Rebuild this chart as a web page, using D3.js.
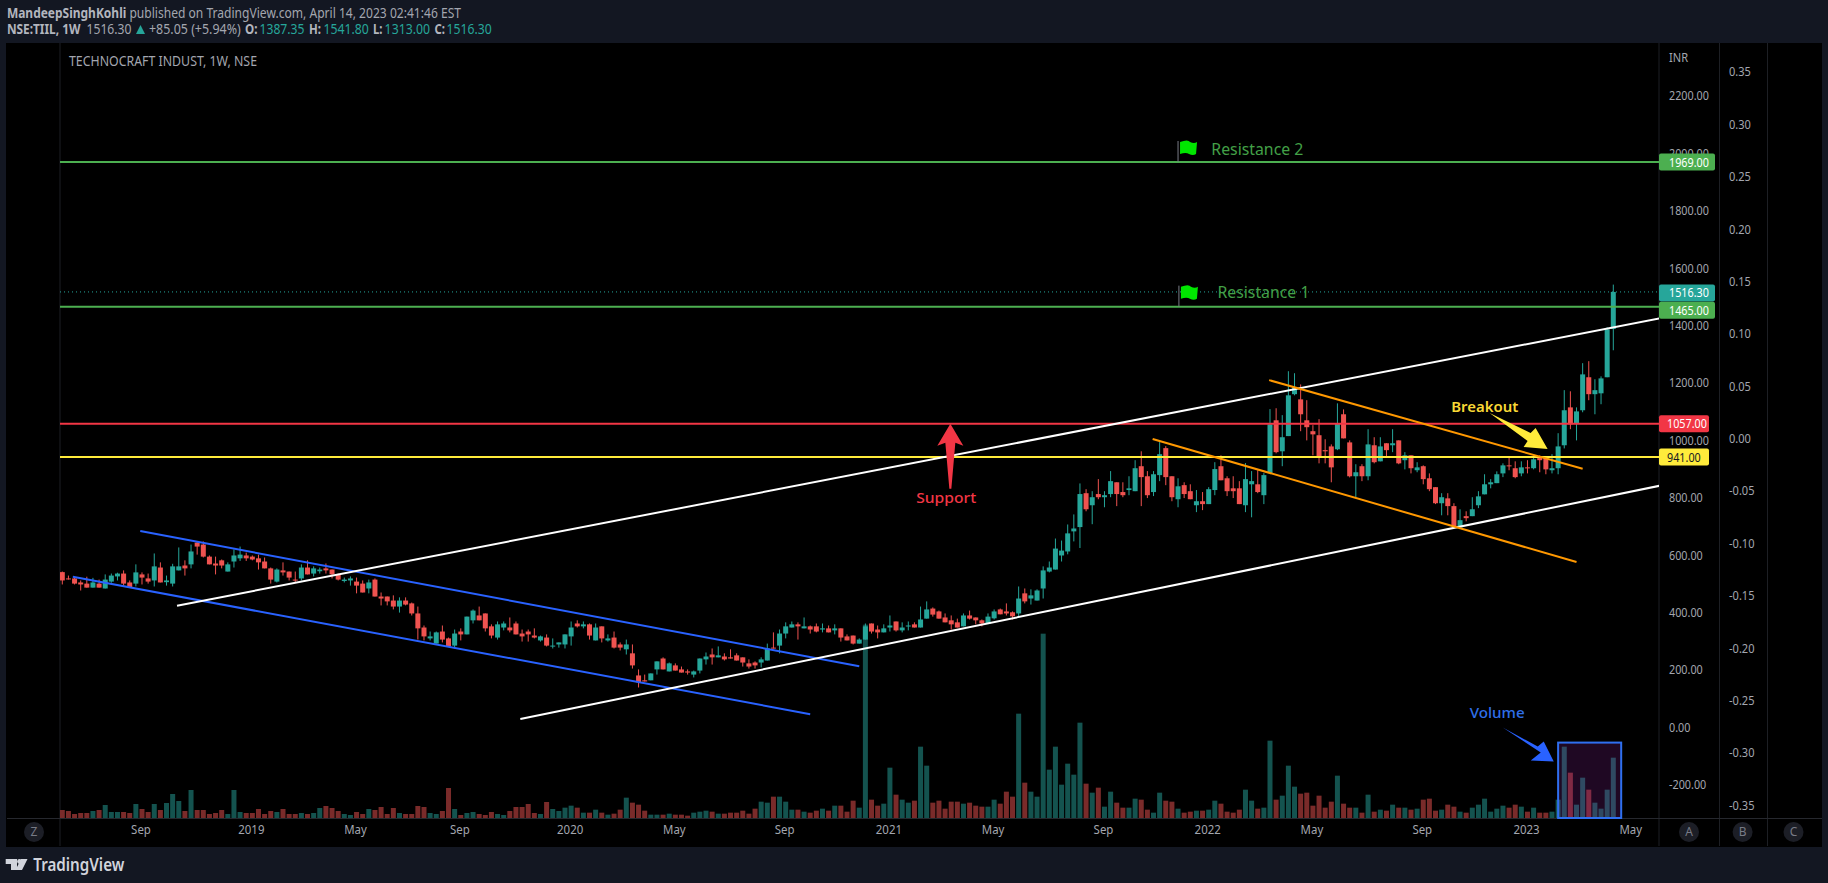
<!DOCTYPE html>
<html>
<head>
<meta charset="utf-8">
<script src="https://cdn.jsdelivr.net/npm/d3@7"></script>
<style>
  html, body { margin: 0; padding: 0; background: #131722; overflow: hidden; }
  svg { display: block; }
  text { font-family: "Noto Sans", sans-serif; }
</style>
</head>
<body>
<svg id="chart" width="1828" height="883"></svg>
<script>
// weekly candles (one value per week from the first bar)
var firstWeek = '2018-06-04';
var opens = [
  540,518,518,504,500,486,500,483,507,525, 535,504,500,532,518,511,556,505,500,546,
  563,567,643,636,594,570,581,542,577,588, 598,594,588,577,553,507,546,542,514,518,
  556,535,543,553,549,532,509,511,507,500, 483,514,455,455,441,420,441,431,396,347,
  309,291,333,309,284,333,323,372,389,396, 351,312,347,347,361,326,333,319,302,312,
  281,288,288,316,361,351,358,302,351,302, 312,288,271,257,180,163,163,201,239,194,
  215,201,194,183,197,236,253,243,246,243, 250,243,222,225,225,232,277,284,326,347,
  358,344,351,351,340,344,337,344,316,319, 291,305,361,340,330,347,368,337,351,358,
  347,378,413,403,382,372,365,351,389,382, 372,361,379,410,403,400,396,466,448,441,
  483,542,549,598,612,682,697,815,773,812, 801,812,853,819,826,822,909,874,819,878,
  972,874,794,843,822,773,787,777,826,909, 867,832,832,773,846,846,808,885,1069,961,
  1014,1160,1142,1069,1031,1017,965,978,968,1090, 992,874,909,874,982,926,989,982,999,930,
  947,895,909,867,836,780,797,770,696,735, 735,773,811,846,850,884,912,902,884,905,
  902,940,940,895,902,982,1114,1059,1104,1219, 1160,1163,1219,1387.35
];
var highs = [
  542,528,524,511,524,520,514,532,535,538, 546,511,567,539,535,605,574,528,569,626,
  581,636,648,647,598,594,584,574,619,629, 608,598,601,591,556,553,574,542,542,567,
  581,560,556,570,549,535,521,525,521,511, 514,518,469,455,459,452,452,434,420,354,
  333,333,354,312,340,344,385,410,420,396, 358,368,368,382,368,340,340,344,319,323,
  309,295,323,368,372,368,361,361,351,323, 333,295,305,288,201,183,187,229,243,225,
  222,211,201,197,239,260,274,281,257,271, 257,243,236,229,243,291,330,340,365,368,
  365,382,354,361,361,354,358,344,323,319, 309,361,361,354,358,389,368,365,368,365,
  420,438,417,406,396,389,378,396,406,382, 375,396,410,413,431,403,490,483,480,480,
  560,577,657,650,706,741,849,829,822,864, 822,892,853,853,874,930,961,892,892,993,
  979,874,867,853,846,826,819,836,923,947, 874,874,857,920,892,895,885,1108,1111,1087,
  1240,1233,1194,1139,1052,1073,1003,985,1128,1107, 999,916,916,1038,1010,1010,989,1038,999,958,
  947,923,912,884,836,815,815,780,759,752, 801,822,881,864,891,919,944,926,926,930,
  940,947,944,951,1024,1174,1170,1114,1268,1275, 1212,1222,1393,1541.8
];
var lows = [
  497,514,497,476,486,486,486,483,503,511, 493,486,490,497,500,490,504,493,490,546,
  528,553,601,591,567,532,553,542,556,579, 579,581,549,553,500,504,528,511,504,511,
  532,525,535,535,518,511,504,493,466,469, 466,455,424,424,410,399,424,389,305,302,
  302,291,295,281,274,302,323,361,372,333, 309,305,337,330,323,298,298,309,298,281,
  274,277,274,284,347,344,305,302,295,298, 274,267,253,204,138,159,163,183,201,194,
  197,190,183,173,187,218,218,243,232,239, 232,211,204,204,208,232,274,257,309,347,
  305,344,326,330,330,330,323,298,302,288, 291,305,326,309,330,333,333,330,337,347,
  347,378,385,378,365,340,347,351,375,358, 351,361,375,393,389,375,386,431,427,441,
  448,539,549,577,602,647,624,752,707,794, 766,801,770,801,808,822,770,798,805,857,
  843,787,766,798,794,749,756,777,808,860, 805,798,777,749,731,815,777,885,954,909,
  1014,1156,1031,999,947,919,919,853,965,1006, 870,801,857,860,919,926,940,958,916,898,
  884,888,846,822,777,738,738,700,696,717, 735,763,811,832,850,871,895,867,874,884,
  898,888,881,884,881,971,1038,999,1097,1139, 1090,1125,1219,1313
];
var closes = [
  511,515,500,497,486,504,486,514,528,535, 500,486,539,521,507,560,504,511,560,560,
  553,612,629,594,567,563,563,567,598,601, 588,584,574,553,514,549,539,521,511,556,
  532,553,549,546,532,514,514,518,493,469, 504,455,448,438,420,441,427,396,344,316,
  316,330,305,281,326,323,385,406,372,344, 319,358,361,337,323,316,323,312,316,284,
  284,295,323,347,351,358,319,347,309,309, 277,277,288,215,156,159,187,229,201,222,
  197,190,190,194,239,246,243,250,236,239, 232,225,211,215,236,274,274,326,351,358,
  351,351,340,333,344,330,344,312,302,291, 305,351,333,330,344,354,337,347,354,347,
  375,410,392,378,365,358,347,389,378,372, 361,385,403,393,396,386,448,438,459,476,
  546,556,622,615,675,692,812,759,801,801, 808,857,812,808,832,902,871,808,881,951,
  871,801,839,812,794,787,777,829,899,860, 822,822,777,864,857,819,878,1055,958,1010,
  1156,1184,1090,1045,1020,944,961,905,1059,1006, 874,888,874,985,923,978,965,989,919,947,
  902,905,864,829,780,801,770,700,721,728, 759,804,846,853,881,912,909,871,905,902,
  933,930,898,902,978,1104,1055,1100,1229,1160, 1174,1215,1386,1516.3
];
// volume, in thousands of shares (no scale in the picture, so rough)
var volumes = [
  24,21,12,15,15,21,24,39,18,18, 18,15,42,27,18,42,24,45,72,51,
  21,84,24,24,12,15,24,12,84,18, 15,15,27,12,21,18,27,12,12,15,
  12,15,30,36,30,21,12,9,18,12, 27,24,33,12,30,15,12,12,36,33,
  15,12,21,90,27,9,15,18,12,9, 18,12,9,21,33,33,42,15,12,48,
  27,21,31,37,31,16,16,25,16,10, 13,25,61,46,40,22,10,10,10,13,
  10,10,7,16,19,22,19,13,13,16, 16,22,13,28,49,46,64,64,49,25,
  25,19,16,22,28,22,37,37,19,52, 31,580,55,37,43,151,70,55,46,52,
  214,157,46,52,28,49,49,43,46,37, 34,34,55,43,79,64,313,106,79,64,
  553,145,214,100,163,130,286,103,76,91, 34,79,46,31,31,58,55,25,16,76,
  52,49,28,16,19,22,22,25,52,43, 19,16,25,85,52,28,31,232,55,67,
  157,94,73,76,37,67,31,49,127,43, 31,31,16,70,19,25,22,40,31,31,
  25,28,55,58,22,25,40,34,19,16, 31,40,58,19,28,37,31,40,34,19,
  31,16,16,19,55,214,136,40,121,85, 46,28,85,181
];

var priceTicks = [2200,2000,1800,1600,1400,1200,1000,800,600,400,200,0,-200];
var sideTicks = [0.35,0.30,0.25,0.20,0.15,0.10,0.05,0,-0.05,-0.10,-0.15,-0.20,-0.25,-0.30,-0.35];
var timeTicks = ['2018-09-03','2019-01-07','2019-05-06','2019-09-02','2020-01-06','2020-05-04','2020-09-07',
  '2021-01-04','2021-05-03','2021-09-06','2022-01-03','2022-05-02','2022-09-05','2023-01-02','2023-05-01'];

// trend lines: bar number and price at both ends
var blueUpper = [[12.73,683],[130.08,212]];
var blueLower = [[1.8,524],[122,45]];
var whiteUpper = [[18.77,423],[260.6,1424]];
var whiteLower = [[74.8,28],[260.6,841]];
var orangeUpper = [[196.9,1209],[248.1,900]];
var orangeLower = [[177.9,1004],[247.05,575]];
var levels = [1969,1465,1057,941];
var lastPrice = 1516.3;

var green = '#26a69a', red = '#ef5350';
var parseDay = d3.utcParse('%Y-%m-%d');
var start = parseDay(firstWeek);
var candles = opens.map(function(o, i) {
  return { date: d3.utcDay.offset(start, i * 7), o: o, h: highs[i], l: lows[i], c: closes[i], v: volumes[i] };
});

var svg = d3.select('#chart');
var paneLeft = 60, paneRight = 1659, paneTop = 43, paneBottom = 818;

var x = d3.scaleUtc()
  .domain([start, d3.utcDay.offset(start, 253 * 7)])
  .range([62.3, 1613.3]);
var y = d3.scaleLinear().domain([2200, -200]).range([95.7, 784.5]);
var ySide = d3.scaleLinear().domain([0.35, -0.35]).range([71.7, 805]);
var yVol = d3.scaleLinear().domain([0, 600]).range([paneBottom, paneBottom - 200]);

function barX(bar) { return x(d3.utcDay.offset(start, bar * 7)); }

// the chart font is narrower than anything installed, so squeeze the glyphs
function squeeze(sel, k) {
  sel.each(function() {
    this.setAttribute('textLength', this.getComputedTextLength() * k);
    this.setAttribute('lengthAdjust', 'spacingAndGlyphs');
  });
}

// black panel and axis separators
svg.append('rect').attr('x', 6).attr('y', 43).attr('width', 1816).attr('height', 804).attr('fill', '#000');
var sepColor = '#1d1f24';
[60, 1659, 1719.5, 1767.5].forEach(function(px) {
  svg.append('line').attr('x1', px).attr('x2', px).attr('y1', 43).attr('y2', 846)
    .attr('stroke', sepColor).attr('stroke-width', 1);
});
svg.append('line').attr('x1', 7).attr('x2', 1822).attr('y1', 818.5).attr('y2', 818.5)
  .attr('stroke', '#26282e').attr('stroke-width', 1);

svg.append('clipPath').attr('id', 'pane').append('rect')
  .attr('x', paneLeft).attr('y', paneTop).attr('width', paneRight - paneLeft).attr('height', paneBottom - paneTop);
var plot = svg.append('g').attr('clip-path', 'url(#pane)');

// volume
plot.selectAll('.vol').data(candles).enter().append('rect')
  .attr('class', 'vol')
  .attr('x', function(d) { return x(d.date) - 2.5; })
  .attr('width', 5)
  .attr('y', function(d) { return yVol(d.v); })
  .attr('height', function(d) { return paneBottom - yVol(d.v); })
  .attr('fill', function(d) { return d.c >= d.o ? '#14534f' : '#7a2b2a'; });

// candles
plot.selectAll('.wick').data(candles).enter().append('line')
  .attr('class', 'wick')
  .attr('x1', function(d) { return x(d.date); })
  .attr('x2', function(d) { return x(d.date); })
  .attr('y1', function(d) { return y(d.h); })
  .attr('y2', function(d) { return y(d.l); })
  .attr('stroke', function(d) { return d.c >= d.o ? green : red; })
  .attr('stroke-width', 1);
plot.selectAll('.body').data(candles).enter().append('rect')
  .attr('class', 'body')
  .attr('x', function(d) { return x(d.date) - 2.5; })
  .attr('width', 5)
  .attr('y', function(d) { return y(Math.max(d.o, d.c)); })
  .attr('height', function(d) { return Math.max(1, Math.abs(y(d.o) - y(d.c))); })
  .attr('fill', function(d) { return d.c >= d.o ? green : red; });

// last price dotted line
plot.append('line').attr('x1', paneLeft).attr('x2', paneRight)
  .attr('y1', y(lastPrice)).attr('y2', y(lastPrice))
  .attr('stroke', green).attr('stroke-width', 1).attr('stroke-dasharray', '1 3');

// horizontal levels
var levelColors = ['#4caf50', '#4caf50', '#f23645', '#ffeb3b'];
levels.forEach(function(p, i) {
  plot.append('line').attr('x1', paneLeft).attr('x2', paneRight)
    .attr('y1', y(p)).attr('y2', y(p))
    .attr('stroke', levelColors[i]).attr('stroke-width', 2);
});

// trend lines
function trend(pts, color) {
  plot.append('line')
    .attr('x1', barX(pts[0][0])).attr('y1', y(pts[0][1]))
    .attr('x2', barX(pts[1][0])).attr('y2', y(pts[1][1]))
    .attr('stroke', color).attr('stroke-width', 2);
}
trend(blueUpper, '#2962ff');
trend(blueLower, '#2962ff');
trend(whiteUpper, '#ffffff');
trend(whiteLower, '#ffffff');
trend(orangeUpper, '#ff9800');
trend(orangeLower, '#ff9800');

// arrows are drawn around the price/bar of their tip
function arrow(bar, price, shape, color) {
  svg.append('polygon')
    .attr('points', shape.map(function(s) { return (barX(bar) + s[0]) + ',' + (y(price) + s[1]); }).join(' '))
    .attr('fill', color);
}
arrow(144.9, 1057, [[0,0],[13,22],[5,19],[1,65],[-1,65],[-5,19],[-13,22]], '#f23645');
arrow(242.3, 969, [[0,0],[-24,-2],[-20,-8],[-58,-36],[-17,-16],[-12,-21]], '#ffeb3b');
arrow(243.4, -120, [[0,0],[-23,-1],[-13,-9],[-51,-34],[-16,-15],[-10,-20]], '#2962ff');

// flags
function flag(bar, price) {
  var fx = barX(bar), fy = y(price);
  plot.append('line').attr('x1', fx).attr('x2', fx).attr('y1', fy).attr('y2', fy - 21)
    .attr('stroke', '#787b86').attr('stroke-width', 1);
  plot.append('path')
    .attr('d', 'M' + (fx + 2) + ',' + (fy - 20) + ' q8,-3 10,0 q4,2 7,0 l-1,12 q-3,2 -7,0 q-3,-2 -9,0 z')
    .attr('fill', '#00e600');
}
flag(182, 1969);
flag(182.2, 1465);

function note(txt, bar, price, color, size, weight, width) {
  svg.append('text')
    .attr('x', barX(bar)).attr('y', y(price)).attr('dy', '.35em')
    .attr('fill', color).attr('font-size', size).attr('font-weight', weight)
    .attr('textLength', width).attr('lengthAdjust', 'spacingAndGlyphs')
    .text(txt);
}
note('Resistance 2', 187.5, 2014, '#43a047', 15.5, 400, 92);
note('Resistance 1', 188.5, 1513, '#43a047', 15.5, 400, 92);
note('Support', 139.3, 800, '#f23645', 15, 500, 60);
note('Breakout', 226.6, 1116, '#f9d835', 15, 600, 67);
note('Volume', 229.6, 50, '#2f6fe8', 15, 500, 55);

// volume highlight box
svg.append('rect')
  .attr('x', barX(244.1)).attr('width', barX(254.3) - barX(244.1))
  .attr('y', y(-54)).attr('height', paneBottom - y(-54))
  .attr('fill', 'rgba(156,39,176,0.2)').attr('stroke', '#2f6ff0').attr('stroke-width', 2);

// price axis
var priceAxis = d3.axisRight(y).tickValues(priceTicks).tickSize(0).tickPadding(0)
  .tickFormat(function(d) { return d3.format('.2f')(d).replace('\u2212', '-'); });
var priceG = svg.append('g').attr('transform', 'translate(1669,0)').call(priceAxis);
priceG.select('.domain').remove();
priceG.selectAll('text').attr('fill', '#a3a6af').attr('font-size', 13)
  .attr('font-family', '"Noto Sans", sans-serif').call(squeeze, 0.83);

var sideAxis = d3.axisRight(ySide).tickValues(sideTicks).tickSize(0).tickPadding(0)
  .tickFormat(function(d) { return d3.format('.2f')(d).replace('\u2212', '-'); });
var sideG = svg.append('g').attr('transform', 'translate(1729,0)').call(sideAxis);
sideG.select('.domain').remove();
sideG.selectAll('text').attr('fill', '#a3a6af').attr('font-size', 13)
  .attr('font-family', '"Noto Sans", sans-serif').call(squeeze, 0.85);

svg.append('text').attr('x', 1669).attr('y', 62).attr('fill', '#a3a6af').attr('font-size', 13)
  .text('INR').call(squeeze, 0.85);

// time axis
var timeAxis = d3.axisBottom(x).tickValues(timeTicks.map(parseDay)).tickSize(0).tickPadding(0)
  .tickFormat(function(d) { return d.getUTCMonth() === 0 ? d3.utcFormat('%Y')(d) : d3.utcFormat('%b')(d); });
var timeG = svg.append('g').attr('transform', 'translate(-1.5,825)').call(timeAxis);
timeG.select('.domain').remove();
timeG.selectAll('text').attr('fill', '#a3a6af').attr('font-size', 13)
  .attr('font-family', '"Noto Sans", sans-serif').call(squeeze, 0.88);

// price tags on the axis
var tags = [
  { p: 1969, label: '1969.00', fill: '#4caf50', ink: '#fff', dy: 0, w: 56 },
  { p: 1057, label: '1057.00', fill: '#f23645', ink: '#fff', dy: 0, w: 50 },
  { p: 941, label: '941.00', fill: '#ffeb3b', ink: '#131722', dy: 0, w: 50 },
  { p: lastPrice, label: '1516.30', fill: green, ink: '#fff', dy: 1, w: 56 },
  { p: 1465, label: '1465.00', fill: '#4caf50', ink: '#fff', dy: 3.5, w: 56 }
];
tags.forEach(function(t) {
  var cy = y(t.p) + t.dy;
  svg.append('rect').attr('x', 1659).attr('y', cy - 8.5).attr('width', t.w).attr('height', 17)
    .attr('rx', 2).attr('fill', t.fill);
  svg.append('text').attr('x', t.w === 56 ? 1669 : 1667).attr('y', cy).attr('dy', '.35em')
    .attr('fill', t.ink).attr('font-size', 13).text(t.label).call(squeeze, 0.83);
});

// corner buttons
[['Z', 34], ['A', 1689], ['B', 1742.6], ['C', 1793.5]].forEach(function(b) {
  svg.append('circle').attr('cx', b[1]).attr('cy', 832).attr('r', 10).attr('fill', '#1c1e26');
  svg.append('text').attr('x', b[1]).attr('y', 832).attr('dy', '.35em').attr('text-anchor', 'middle')
    .attr('fill', '#787b86').attr('font-size', 12).text(b[0]);
});

// header, each piece squeezed to the width it has in the picture
function head(txt, px, py, color, weight, width) {
  svg.append('text').attr('x', px).attr('y', py).attr('dy', '.35em')
    .attr('fill', color).attr('font-size', 14).attr('font-weight', weight)
    .attr('textLength', width).attr('lengthAdjust', 'spacingAndGlyphs').text(txt);
}
var headGray = '#b2b5be', headDim = '#a3a6af';
head('MandeepSinghKohli', 6.9, 12.7, headGray, 700, 119.4);
head('published on TradingView.com, April 14, 2023 02:41:46 EST', 129.4, 12.7, headDim, 400, 331.6);
head('NSE:TIIL, 1W', 6.9, 29.5, headGray, 700, 73.5);
head('1516.30', 86.5, 29.5, headDim, 400, 45);
svg.append('path').attr('d', 'M136,34 L140.5,25 L145,34 Z').attr('fill', green);
head('+85.05 (+5.94%)', 149, 29.5, headDim, 400, 91.7);
head('O:', 245, 29.5, headGray, 700, 12.5);
head('1387.35', 259.5, 29.5, green, 400, 45);
head('H:', 309, 29.5, headGray, 700, 12);
head('1541.80', 323.4, 29.5, green, 400, 45.5);
head('L:', 373, 29.5, headGray, 700, 9.5);
head('1313.00', 384.6, 29.5, green, 400, 45.5);
head('C:', 434.4, 29.5, headGray, 700, 10.5);
head('1516.30', 446.6, 29.5, green, 400, 45.2);

svg.append('text').attr('x', 69).attr('y', 60.7).attr('dy', '.35em')
  .attr('fill', '#a3a6af').attr('font-size', 14)
  .attr('textLength', 188).attr('lengthAdjust', 'spacingAndGlyphs')
  .text('TECHNOCRAFT INDUST, 1W, NSE');

// footer logo
svg.append('path')
  .attr('d', 'M5.7,859 H17 V870 H11 V864 H5.7 Z M15.5,870 L21,859 H27.5 L22,870 Z')
  .attr('fill', '#d1d4dc');
svg.append('circle').attr('cx', 19.5).attr('cy', 861.5).attr('r', 2.4).attr('fill', '#d1d4dc');
svg.append('text').attr('x', 33.3).attr('y', 865).attr('dy', '.35em')
  .attr('fill', '#d1d4dc').attr('font-size', 17).attr('font-weight', 600)
  .attr('textLength', 91).attr('lengthAdjust', 'spacingAndGlyphs').text('TradingView');
</script>
</body>
</html>
